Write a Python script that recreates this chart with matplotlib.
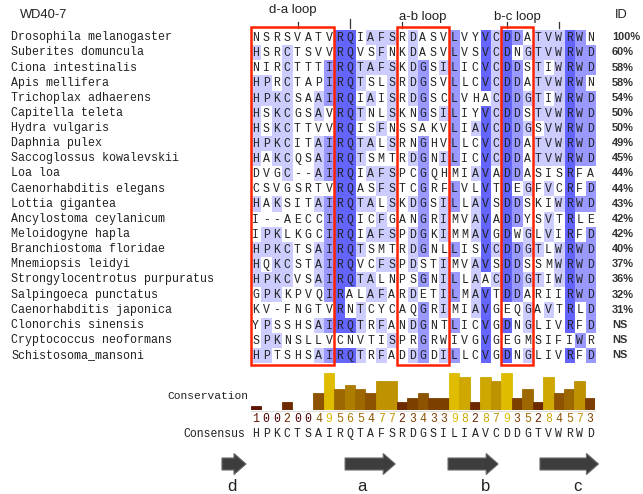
import matplotlib
matplotlib.use("Agg")
import matplotlib.pyplot as plt
from matplotlib.patches import Rectangle, Polygon
from matplotlib.transforms import blended_transform_factory
from collections import Counter
import numpy as np

# ---- alignment data -------------------------------------------------------
species = [
    "Drosophila melanogaster", "Suberites domuncula", "Ciona intestinalis",
    "Apis mellifera", "Trichoplax adhaerens", "Capitella teleta",
    "Hydra vulgaris", "Daphnia pulex", "Saccoglossus kowalevskii", "Loa loa",
    "Caenorhabditis elegans", "Lottia gigantea", "Ancylostoma ceylanicum",
    "Meloidogyne hapla", "Branchiostoma floridae", "Mnemiopsis leidyi",
    "Strongylocentrotus purpuratus", "Salpingoeca punctatus",
    "Caenorhabditis japonica", "Clonorchis sinensis",
    "Cryptococcus neoformans", "Schistosoma_mansoni",
]
sequences = [
    "NSRSVATVRQIAFSRDASVLVYVCDDATVWRWN",
    "HSRCTSVVRQVSFNKDASVLVSVCDNGTVWRWD",
    "NIRCTTTIRQTAFSKDGSILICVCDDSTIWRWD",
    "HPRCTAPIRQTSLSRDGSVLLCVCDDATVWRWN",
    "HPKCSAAIRQIAISRDGSCLVHACDDGTIWRWD",
    "HSKCGSAVRQTNLSKNGSILIYVCDDSTVWRWD",
    "HSKCTTVVRQISFNSSAKVLIAVCDDGSVWRWD",
    "HPKCITAIRQTALSRNGHVLLCVCDDATVWRWD",
    "HAKCQSAIRQTSMTRDGNILICVCDDATVWRWD",
    "DVGC--AIRQIAFSPCGQHMIAVADDASISRFA",
    "CSVGSRTVRQASFSTCGRFLVLVTDEGFVCRFD",
    "HAKSITAIRQTALSKDGSILLAVSDDSKIWRWD",
    "I--AECCIRQICFGANGRIMVAVADDYSVTRLE",
    "IPKLKGCIRQIAFSPDGKIMMAVGDWGLVIRFD",
    "HPKCTSAIRQTSMTRDGNLLISVCDDGTLWRWD",
    "HQKCSTAIRQVCFSPDSTIMVAVSDDSSMWRWD",
    "HPKCVSAIRQTALNPSGNILLAACDDGTIWRWD",
    "GPKKPVQIRALAFARDETILMAVTDDARIIRWD",
    "KV-FNGTVRNTCYCAQGRIMIAVGEQGAVTRLD",
    "YPSSHSAIRQTRFANDGNTLICVGDNGLIVRFD",
    "SPKNSLLVCNVTISPRGRWIVGVGEGMSIFIWR",
    "HPTSHSAIRQTRFADDGDILLCVGDNGLIVRFD",
]
identity = ["100%", "60%", "58%", "58%", "54%", "50%", "50%", "49%", "45%",
            "44%", "44%", "43%", "42%", "42%", "40%", "37%", "36%", "32%",
            "31%", "NS", "NS", "NS"]
conservation = [1, 0, 0, 2, 0, 0, 4, 9, 5, 6, 5, 4, 7, 7, 2, 3, 4,
                3, 3, 9, 8, 2, 8, 7, 9, 3, 5, 2, 8, 4, 5, 7, 3]
consensus = "HPKCTSAIRQTAFSRDGSILIAVCDDGTVWRWD"

# loop boxes (first column, last column), 0-based
loops = [("d-a loop", 0, 7), ("a-b loop", 14, 18), ("b-c loop", 24, 26)]
loop_label_y = [10, 17, 17]
# beta strands drawn under the alignment, in column units (start, end, label x)
strands = [("d", -3.23, -0.93, -2.3), ("a", 8.55, 13.35, 10.2),
           ("b", 18.4, 23.2, 22.0), ("c", 27.2, 32.8, 30.8)]
ruler_cols = [4, 9, 14, 24, 29]

n_rows = len(sequences)
n_cols = len(sequences[0])

# ---- percent-identity colouring -------------------------------------------
pid_colours = [(80, "#6464FF"), (60, "#9999FF"), (40, "#CCCCFF")]
cell_rgb = np.ones((n_rows, n_cols, 3))
for j in range(n_cols):
    column = [s[j] for s in sequences]
    counts = Counter(c for c in column if c != "-")
    top = max(counts.values())
    modal = {c for c, k in counts.items() if k == top}
    pct = 100.0 * top / n_rows
    colour = None
    for thr, col in pid_colours:
        if pct > thr:
            colour = col
            break
    if colour is None:
        continue
    rgb = matplotlib.colors.to_rgb(colour)
    for i, c in enumerate(column):
        if c in modal:
            cell_rgb[i, j] = rgb


def cons_colour(v):
    frac = v / 11.0
    return (0.3 + 0.7 * frac, 0.9 * frac, 0.0)


# ---- figure layout (pixel-based) -----------------------------------------
W, H = 643, 494
fig = plt.figure(figsize=(W / 100, H / 100), dpi=100)
fig.patch.set_facecolor("white")

mono = "Liberation Mono"
sans = "Liberation Sans"

aln_left, col_w = 250.5, 10.45
row0, row_h = 37.3, 15.13
aln_top = row0 - row_h / 2
aln_bottom = row0 + row_h * (n_rows - 0.5)

ax_aln = fig.add_axes([aln_left / W, (H - aln_bottom) / H,
                       col_w * n_cols / W, (aln_bottom - aln_top) / H])
ax_aln.set_xlim(-0.5, n_cols - 0.5)
ax_aln.set_ylim(n_rows - 0.5, -0.5)
ax_aln.axis("off")
ax_aln.imshow(cell_rgb, aspect="auto", interpolation="nearest",
              extent=(-0.5, n_cols - 0.5, n_rows - 0.5, -0.5))
for i, seq in enumerate(sequences):
    for j, c in enumerate(seq):
        ax_aln.text(j, i + 0.05, c, ha="center", va="center", family=mono,
                    fontsize=8.3, color="#222222")

# ---- conservation histogram ----------------------------------------------
base_y = 410
unit_px = 37.5 / 9
ax_cons = fig.add_axes([aln_left / W, (H - base_y) / H,
                        col_w * n_cols / W, unit_px * 11 / H])
ax_cons.set_xlim(-0.5, n_cols - 0.5)
ax_cons.set_ylim(0, 11)
ax_cons.axis("off")
cols = [cons_colour(v) for v in conservation]
ax_cons.bar(range(n_cols), conservation, width=1.0, color=cols,
            edgecolor=cols, linewidth=0.6)

# overlay axes in pixel units, drawn above the alignment
ax = fig.add_axes([0, 0, 1, 1])
ax.set_xlim(0, W)
ax.set_ylim(H, 0)
ax.axis("off")
ax.set_zorder(10)

ax.plot([aln_left, aln_left + col_w * n_cols], [base_y + 1, base_y + 1],
        color="#dddddd", lw=0.8, zorder=0)

# species names and identity values
for i, (name, pid) in enumerate(zip(species, identity)):
    y = row0 + i * row_h
    ax.text(11, y, name, ha="left", va="center", family=mono, fontsize=8.4,
            color="#222222")
    ax.text(612, y, pid, ha="left", va="center", family=sans, fontsize=7.9,
            fontweight="bold", color="#333333")

# headers
ax.text(20, 15, "WD40-7", ha="left", va="center", family=sans, fontsize=9.3,
        color="#222222")
ax.text(615, 15, "ID", ha="left", va="center", family=sans, fontsize=9.3,
        color="#222222")

# loop boxes and labels
xcol_y = blended_transform_factory(ax_aln.transData, ax.transData)
for (label, c0, c1), ly in zip(loops, loop_label_y):
    ax.add_patch(Rectangle((c0 - 0.5, 27), c1 - c0 + 1, 338, fill=False,
                           edgecolor="#FF2200", linewidth=1.8,
                           transform=xcol_y, zorder=5, clip_on=False))
    ax.text((c0 + c1) / 2, ly, label, ha="center", va="center", family=sans,
            fontsize=9.5, color="#222222", transform=xcol_y)

for c in ruler_cols:
    top = 19 if c == 9 else 22
    ax.plot([c, c], [top, 28], color="#333333", lw=0.9, transform=xcol_y)

ax.text(248, 396, "Conservation", ha="right", va="center", family=mono,
        fontsize=8.1, color="#222222")
for j, v in enumerate(conservation):
    ax.text(j, 419, str(v), ha="center", va="center", family=mono,
            fontsize=8.3, color=cons_colour(v), transform=xcol_y)

ax.text(245, 433.5, "Consensus", ha="right", va="center", family=mono,
        fontsize=8.3, color="#222222")
for j, c in enumerate(consensus):
    ax.text(j, 433.5, c, ha="center", va="center", family=mono,
            fontsize=8.3, color="#222222", transform=xcol_y)

# ---- beta strand arrows ---------------------------------------------------
for label, x0, x1, lx in strands:
    head = 1.15
    xs = [x0, x1 - head, x1 - head, x1, x1 - head, x1 - head, x0]
    ys = [458, 458, 453.5, 464, 474.5, 470, 470]
    ax.add_patch(Polygon(list(zip(xs, ys)), closed=True, facecolor="#3d3d3d",
                         edgecolor="#6a6a6a", linewidth=0.8, transform=xcol_y))
    ax.text(lx, 486, label, ha="center", va="center", family=sans,
            fontsize=12, color="#222222", transform=xcol_y)

fig.savefig("out.png", dpi=100, facecolor="white")
